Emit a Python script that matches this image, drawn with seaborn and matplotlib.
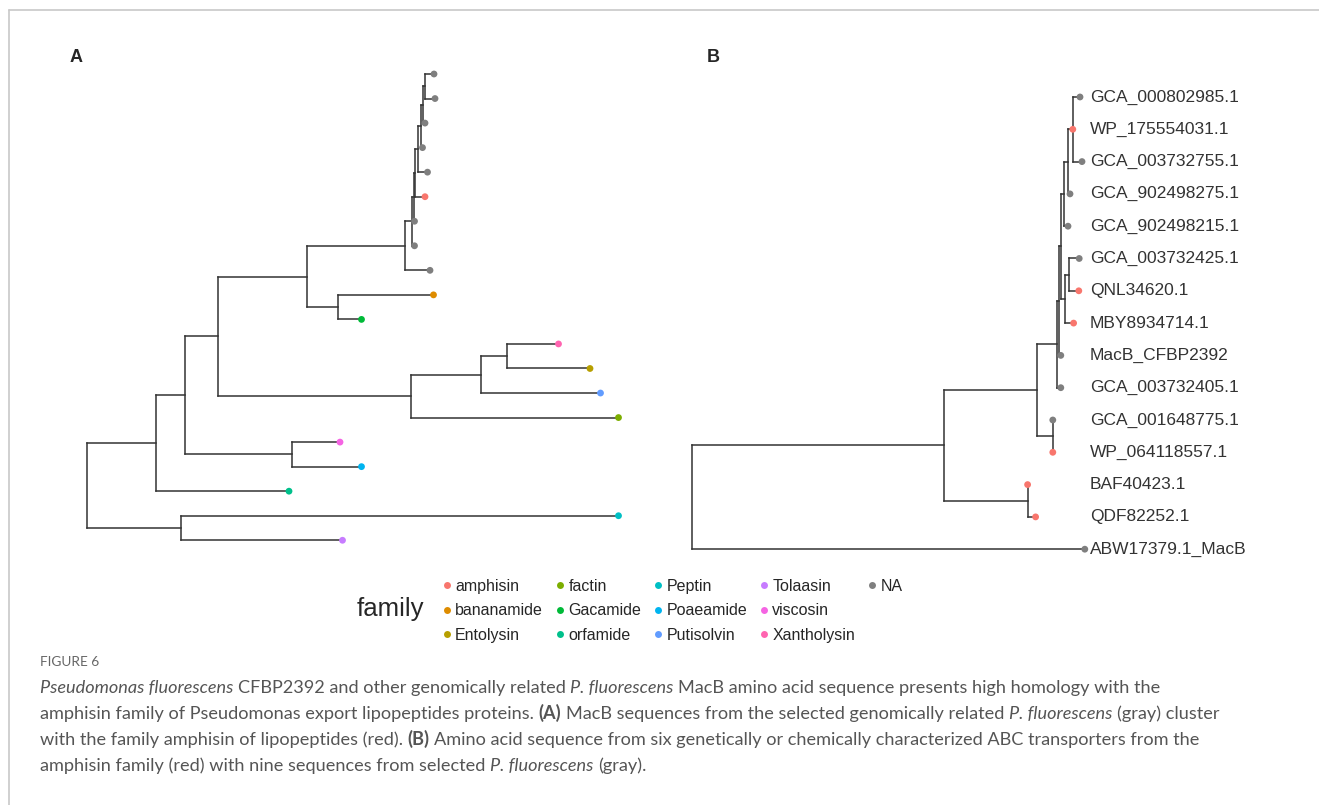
import numpy as np
import pandas as pd
import seaborn as sns
import matplotlib.pyplot as plt
from matplotlib.lines import Line2D

W, H = 1319, 805

# --- Panel A: MacB tree of lipopeptide families (tips top -> bottom) ---
a_tips = ['t%d' % i for i in range(1, 21)]
a_tip_family = ['NA', 'NA', 'NA', 'NA', 'NA', 'amphisin', 'NA', 'NA', 'NA',
                'bananamide', 'Gacamide', 'Xantholysin', 'Entolysin', 'Putisolvin',
                'factin', 'viscosin', 'Poaeamide', 'orfamide', 'Peptin', 'Tolaasin']
a_tip_depth = [0.694, 0.696, 0.676, 0.671, 0.681, 0.676, 0.655, 0.655, 0.686,
               0.693, 0.549, 0.943, 1.006, 1.027, 1.063, 0.506, 0.549, 0.404,
               1.063, 0.511]
# internal nodes, children listed before parents
a_nodes = ['n12', 'n3', 'n4', 'n5', 'n6', 'n7', 'n8', 'n9', 'n_ban', 'n_top',
           'n_xan', 'n_put', 'n_fac', 'n_core', 'n_vis', 'n_mid', 'n_orf',
           'n_pep', 'rootA']
a_node_depth = [0.675, 0.672, 0.668, 0.662, 0.656, 0.653, 0.650, 0.636, 0.502,
                0.440, 0.840, 0.788, 0.648, 0.261, 0.410, 0.195, 0.137, 0.188, 0.0]
a_node_children = [['t1', 't2'], ['n12', 't3'], ['n3', 't4'], ['n4', 't5'],
                   ['n5', 't6'], ['n6', 't7'], ['n7', 't8'], ['n8', 't9'],
                   ['t10', 't11'], ['n9', 'n_ban'], ['t12', 't13'],
                   ['n_xan', 't14'], ['n_put', 't15'], ['n_top', 'n_fac'],
                   ['t16', 't17'], ['n_core', 'n_vis'], ['n_mid', 't18'],
                   ['t19', 't20'], ['n_orf', 'n_pep']]

# --- Panel B: amphisin ABC transporters vs P. fluorescens MacB ---
b_tips = ['GCA_000802985.1', 'WP_175554031.1', 'GCA_003732755.1',
          'GCA_902498275.1', 'GCA_902498215.1', 'GCA_003732425.1',
          'QNL34620.1', 'MBY8934714.1', 'MacB_CFBP2392', 'GCA_003732405.1',
          'GCA_001648775.1', 'WP_064118557.1', 'BAF40423.1', 'QDF82252.1',
          'ABW17379.1_MacB']
b_tip_family = ['NA', 'amphisin', 'NA', 'NA', 'NA', 'NA', 'amphisin', 'amphisin',
                'NA', 'NA', 'NA', 'amphisin', 'amphisin', 'amphisin', 'NA']
b_tip_depth = [0.970, 0.952, 0.975, 0.945, 0.940, 0.968, 0.967, 0.954, 0.922,
               0.922, 0.902, 0.902, 0.839, 0.859, 0.982]
b_nodes = ['m1', 'm2', 'm3', 'm4', 'm5', 'm6', 'm7', 'm8', 'm9', 'm10', 'm11',
           'm12', 'rootB']
b_node_depth = [0.952, 0.940, 0.930, 0.942, 0.932, 0.922, 0.918, 0.912, 0.902,
                0.862, 0.839, 0.630, 0.0]
b_node_children = [b_tips[0:3], ['m1', b_tips[3]], ['m2', b_tips[4]],
                   [b_tips[5], b_tips[6]], ['m4', b_tips[7]], ['m3', 'm5'],
                   ['m6', b_tips[8]], ['m7', b_tips[9]], [b_tips[10], b_tips[11]],
                   ['m8', 'm9'], [b_tips[12], b_tips[13]], ['m10', 'm11'],
                   ['m12', b_tips[14]]]

families = ['amphisin', 'bananamide', 'Entolysin', 'factin', 'Gacamide', 'orfamide',
            'Peptin', 'Poaeamide', 'Putisolvin', 'Tolaasin', 'viscosin',
            'Xantholysin', 'NA']
family_colors = ['#F8766D', '#DE8C00', '#B79F00', '#7CAE00', '#00BA38', '#00C08B',
                 '#00BFC4', '#00B4F0', '#619CFF', '#C77CFF', '#F564E3', '#FF64B0',
                 '#7F7F7F']
palette = dict(zip(families, family_colors))

caption = [
    [('Pseudomonas fluorescens', 'i'), (' CFBP2392 and other genomically related ', 'n'),
     ('P. fluorescens', 'i'), (' MacB amino acid sequence presents high homology with the', 'n')],
    [('amphisin family of Pseudomonas export lipopeptides proteins. ', 'n'), ('(A)', 'b'),
     (' MacB sequences from the selected genomically related ', 'n'), ('P. fluorescens', 'i'),
     (' (gray) cluster', 'n')],
    [('with the family amphisin of lipopeptides (red). ', 'n'), ('(B)', 'b'),
     (' Amino acid sequence from six genetically or chemically characterized ABC transporters from the', 'n')],
    [('amphisin family (red) with nine sequences from selected ', 'n'), ('P. fluorescens', 'i'),
     (' (gray).', 'n')],
]

sns.set_theme(style='white')
plt.rcParams['font.family'] = ['Liberation Sans', 'DejaVu Sans']

LINE = '#333333'


def layout(tips, tip_depth, nodes, node_depth, node_children):
    x = dict(zip(tips, tip_depth))
    x.update(zip(nodes, node_depth))
    y = {t: float(i) for i, t in enumerate(tips)}
    for n, ch in zip(nodes, node_children):
        y[n] = np.mean([y[c] for c in ch])
    return x, y


def draw_tree(ax, x, y, nodes, node_children):
    for n, ch in zip(nodes, node_children):
        ys = [y[c] for c in ch]
        ax.plot([x[n], x[n]], [min(ys), max(ys)], color=LINE, lw=1.1,
                solid_capstyle='projecting', zorder=1)
        for c in ch:
            ax.plot([x[n], x[c]], [y[c], y[c]], color=LINE, lw=1.1,
                    solid_capstyle='projecting', zorder=1)


def px_box(x0, y0, x1, y1):
    return [x0 / W, 1 - y1 / H, (x1 - x0) / W, (y1 - y0) / H]


fig = plt.figure(figsize=(W / 100, H / 100), dpi=100)

# Panel A
axA = fig.add_axes(px_box(40, 60, 660, 560))
xa, ya = layout(a_tips, a_tip_depth, a_nodes, a_node_depth, a_node_children)
draw_tree(axA, xa, ya, a_nodes, a_node_children)
dfA = pd.DataFrame({'tip': a_tips, 'family': a_tip_family,
                    'depth': [xa[t] for t in a_tips], 'y': [ya[t] for t in a_tips]})
sns.scatterplot(data=dfA, x='depth', y='y', hue='family', hue_order=families,
                palette=palette, s=24, linewidth=0, ax=axA, zorder=3)
axA.set_xlim(-0.094, 1.146)
axA.set_ylim(19.804, -0.5705)
axA.axis('off')

leg = axA.get_legend()
handles = list(leg.legend_handles)
labels = [t.get_text() for t in leg.get_texts()]
leg.remove()
for h in handles:
    h.set_markersize(5)
handles += [Line2D([], [], linestyle='none')] * 2
labels += ['', '']

# Panel B
axB = fig.add_axes(px_box(680, 80, 1300, 570))
xb, yb = layout(b_tips, b_tip_depth, b_nodes, b_node_depth, b_node_children)
draw_tree(axB, xb, yb, b_nodes, b_node_children)
dfB = pd.DataFrame({'tip': b_tips, 'family': b_tip_family,
                    'depth': [xb[t] for t in b_tips], 'y': [yb[t] for t in b_tips]})
sns.scatterplot(data=dfB, x='depth', y='y', hue='family', hue_order=families,
                palette=palette, s=24, linewidth=0, ax=axB, legend=False, zorder=3)
label_x = max(b_tip_depth) + 0.013
for t in b_tips:
    axB.text(label_x, yb[t], t, ha='left', va='center', fontsize=12.5, color='#333333')
axB.set_xlim(-0.03, 1.52)
axB.set_ylim(14.644, -0.526)
axB.axis('off')

# panel letters
fig.text(76 / W, 1 - 58 / H, 'A', fontsize=13, fontweight='bold', ha='center', va='center')
fig.text(713 / W, 1 - 58 / H, 'B', fontsize=13, fontweight='bold', ha='center', va='center')

# legend (ggplot style, title on the left)
fig.legend(handles, labels, ncol=5, loc='upper left', bbox_to_anchor=(444 / W, 1 - 579 / H),
           frameon=False, fontsize=11.5, handlelength=0.4, handletextpad=0.3,
           columnspacing=0.88, labelspacing=0.58, borderpad=0, borderaxespad=0)
fig.text(357 / W, 1 - 609 / H, 'family', fontsize=18.5, ha='left', va='center')

# figure frame (top + left rule)
fig.add_artist(Line2D([9 / W, 9 / W], [0, 1 - 10 / H], color='#c8c8c8', lw=1.2))
fig.add_artist(Line2D([9 / W, 1], [1 - 10 / H, 1 - 10 / H], color='#c8c8c8', lw=1.2))

# caption
renderer = fig.canvas.get_renderer()


def run_width(s, **kw):
    t = fig.text(0, 0, s, **kw)
    w = t.get_window_extent(renderer).width
    t.remove()
    return w


def draw_runs(x_px, y_px, runs, size, color):
    x = x_px
    for s, style in runs:
        kw = dict(fontsize=size, color=color, family=['Lato', 'DejaVu Sans'],
                  style='italic' if style == 'i' else 'normal',
                  weight='bold' if style == 'b' else 'normal')
        sp = run_width('a a', **kw) - run_width('aa', **kw)
        core = s.strip()
        x += (len(s) - len(s.lstrip())) * sp
        fig.text(x / W, 1 - y_px / H, core, va='baseline', ha='left', **kw)
        x += run_width(core, **kw) + (len(s) - len(s.rstrip())) * sp


fig.text(40 / W, 1 - 666 / H, 'FIGURE 6', fontsize=9.8, color='#666666',
         family=['Lato', 'DejaVu Sans'], va='baseline')
for i, runs in enumerate(caption):
    draw_runs(40, 693 + 26 * i, runs, 13.1, '#555555')

fig.savefig('out.png', dpi=100)
